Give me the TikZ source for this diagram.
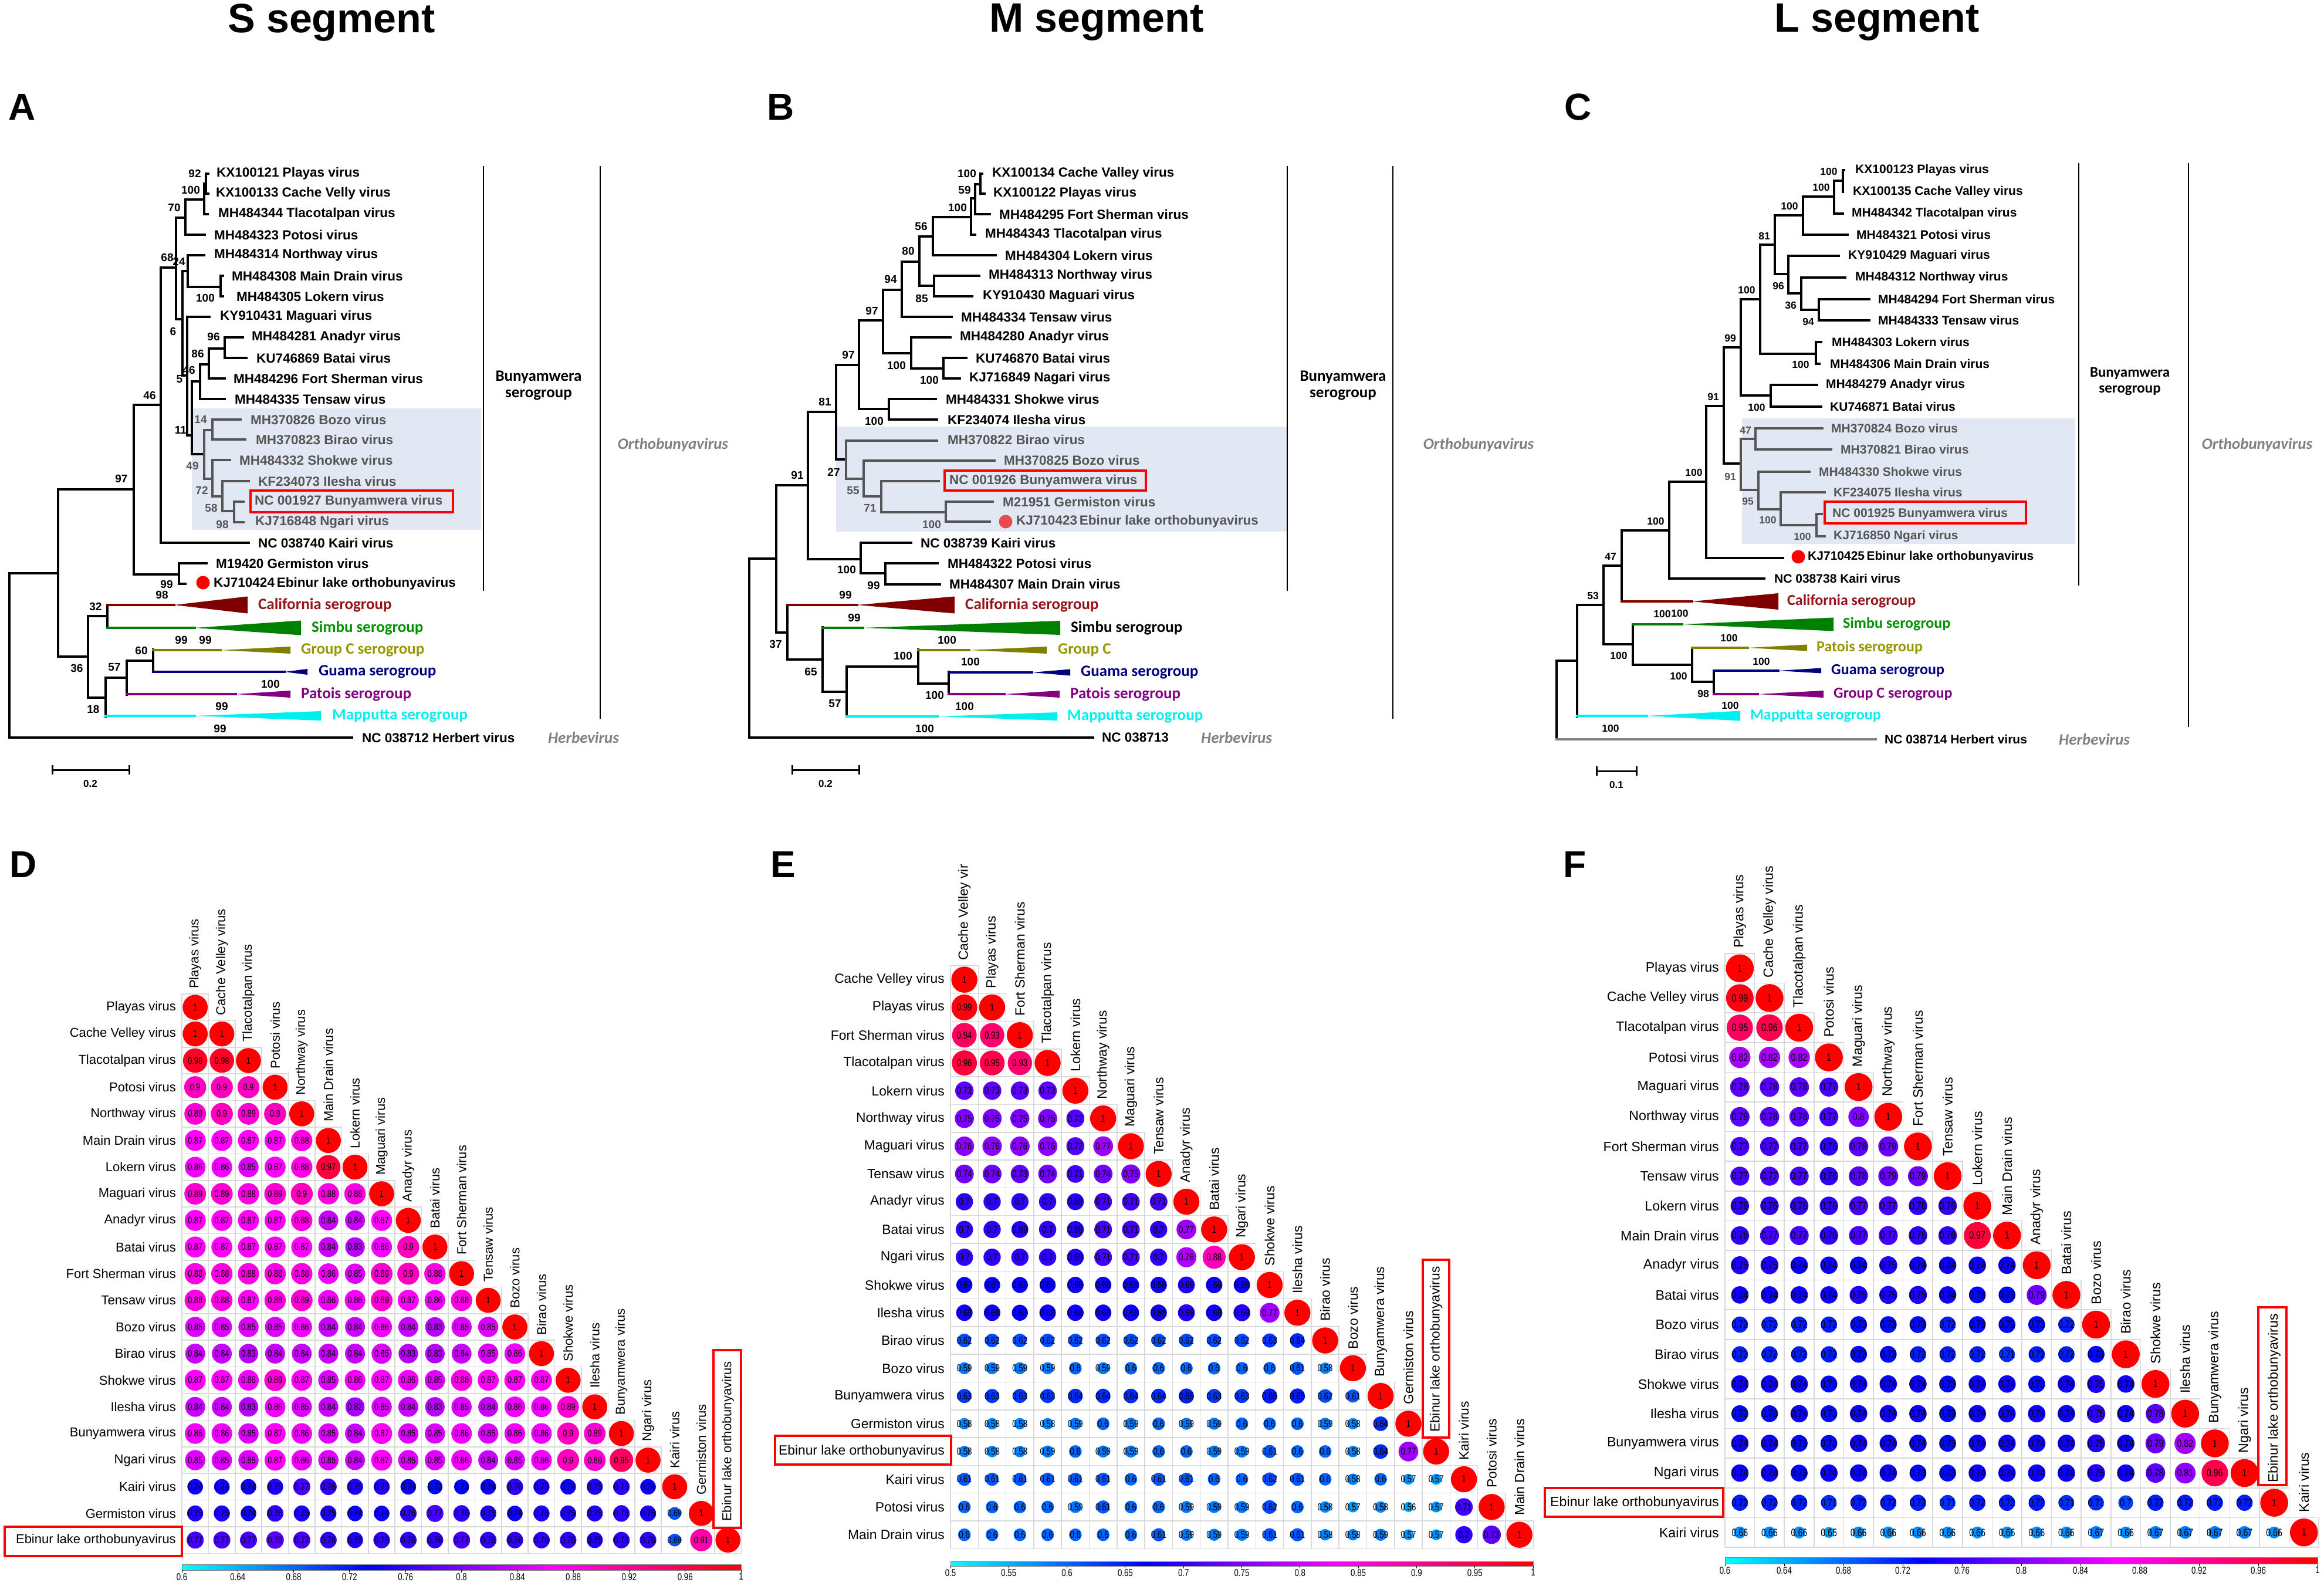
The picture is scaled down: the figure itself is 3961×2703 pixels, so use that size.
\documentclass[tikz,border=0pt]{standalone}
\usepackage{fontspec}
\setmainfont{Liberation Sans}
\newfontfamily\calib{Carlito}
\newfontfamily\numf[FakeStretch=0.78]{Liberation Sans}
\definecolor{shadebg}{RGB}{226,232,243}
\definecolor{shgray}{RGB}{85,85,85}
\definecolor{calred}{RGB}{128,0,0}
\definecolor{caltxt}{RGB}{150,20,25}
\definecolor{simbu}{RGB}{0,128,0}
\definecolor{simtxt}{RGB}{0,145,0}
\definecolor{grpc}{RGB}{128,128,0}
\definecolor{grptxt}{RGB}{150,150,0}
\definecolor{guama}{RGB}{0,0,128}
\definecolor{patois}{RGB}{128,0,128}
\definecolor{mapp}{RGB}{0,240,240}
\definecolor{orthog}{RGB}{128,128,128}
\definecolor{dotb}{RGB}{232,74,80}
\definecolor{cC}{rgb}{0,1,1}
\definecolor{cB}{rgb}{0,0,1}
\definecolor{cM}{rgb}{1,0,1}
\definecolor{cR}{rgb}{1,0,0}
\tikzset{
  br/.style={line width=3.5pt, line cap=rect},
  tl/.style={anchor=west, inner sep=0, font=\bfseries\fontsize{22.5}{24}\selectfont},
  bsl/.style={inner sep=0, font=\bfseries\fontsize{19}{19}\selectfont},
  clab/.style={anchor=west, inner sep=0, font=\calib\bfseries\fontsize{27}{27}\selectfont},
  grouplab/.style={align=center, inner sep=0, font=\calib\bfseries\fontsize{27}{28}\selectfont},
  genlab/.style={inner sep=0, text=orthog, font=\calib\bfseries\itshape\fontsize{27}{27}\selectfont},
  redbox/.style={draw=cR, line width=4pt},
  rowlab/.style={anchor=east, inner sep=0},
  collab/.style={anchor=west, inner sep=0, rotate=90},
  cellb/.style={draw=black!15, line width=1.5pt},
  panel/.style={inner sep=0, font=\bfseries\fontsize{64}{64}\selectfont},
  title/.style={inner sep=0, font=\bfseries\fontsize{70}{70}\selectfont},
  scl/.style={line width=3pt}
}
% node: x, ya, xa, yb, xb
\newcommand\nd[6][black]{\draw[br,#1] (#4,#3)--(#2,#3)--(#2,#5)--(#6,#5);}
\newcommand\tip[4][black]{\node[tl,text=#1] at (#2,#3) {#4};}
\newcommand\bs[4][black]{\node[bsl,text=#1] at (#2,#3) {#4};}
% clade: color, x0, xtri, xend, y, half, text, textcolor, textx
\newcommand\clade[9]{%
  \draw[br,#1] (#2,#5)--(#3,#5);
  \fill[#1] (#3,#5)--(#4,{#5-#6})--(#4,{#5+#6})--cycle;
  \node[clab,text=#8] at (#9,#5) {#7};}
\newcommand\corrmat[9]{%
  \pgfmathsetmacro\nfs{0.36*#3}%
  \foreach \lab [count=\i] in {#6}{%
    \node[rowlab,font=\fontsize{#9}{#9}\selectfont] at ({#1-10},{#2+(\i-0.5)*#3}) {\lab};}%
  \foreach \lab [count=\i] in {#7}{%
    \node[collab,font=\fontsize{#9}{#9}\selectfont] at ({#1+(\i-0.5)*#3},{#2+(\i-1)*#3-9}) {\lab};}%
  \foreach \row [count=\i] in {#8}{%
    \foreach \v [count=\j] in \row {%
      \pgfmathsetmacro\tv{max(0.001,min(1,(\v-#4)/(#5-#4)))}%
      \ifdim\tv pt<0.33333pt
        \pgfmathtruncatemacro\pp{min(100,300*\tv)}\colorlet{cc}{cB!\pp!cC}%
      \else\ifdim\tv pt<0.66667pt
        \pgfmathtruncatemacro\pp{min(100,300*(\tv-1/3))}\colorlet{cc}{cM!\pp!cB}%
      \else
        \pgfmathtruncatemacro\pp{min(100,300*(\tv-2/3))}\colorlet{cc}{cR!\pp!cM}%
      \fi\fi
      \pgfmathsetmacro\rr{#3*0.47*max(0.3,\tv^0.45)}%
      \draw[cellb] ({#1+(\j-1)*#3},{#2+(\i-1)*#3}) rectangle ++(#3,#3);
      \fill[cc] ({#1+(\j-0.5)*#3},{#2+(\i-0.5)*#3}) circle[radius=\rr pt];
      \node[inner sep=0,font=\numf\fontsize{\nfs}{\nfs}\selectfont] at ({#1+(\j-0.5)*#3},{#2+(\i-0.5)*#3}) {\v};
    }}%
}
\newcommand\cbar[7]{%
  \pgfmathsetmacro\cw{(#3-#1)/3}%
  \shade[left color=cC,right color=cB] (#1,#2) rectangle ({#1+\cw},#4);
  \shade[left color=cB,right color=cM] ({#1+\cw},#2) rectangle ({#1+2*\cw},#4);
  \shade[left color=cM,right color=cR] ({#1+2*\cw},#2) rectangle (#3,#4);
  \draw[black!50,line width=1pt] (#1,#2) rectangle (#3,#4);
  \foreach \v in {#7}{%
    \pgfmathsetmacro\xx{#1+(\v-#5)/(#6-#5)*(#3-#1)}%
    \draw[line width=1pt] (\xx,#4)--(\xx,{#4+4});
    \node[anchor=north,inner sep=0,font=\numf\fontsize{17}{17}\selectfont] at (\xx,{#4+5}) {\v};}%
}
\begin{document}
\begin{tikzpicture}[x=1pt,y=-1pt]
\useasboundingbox (0,0) rectangle (3961,2703);
\fill[white] (0,0) rectangle (3961,2703);

% titles and panel letters
\node[title] (tS) at (565,38) {S segment};
\node[title] (tM) at (1869,38) {M segment};
\node[title] (tL) at (3199,38) {L segment};
\node[panel] (pA) at (38,182) {A};
\node[panel] (pB) at (1331,182) {B};
\node[panel] (pC) at (2690,182) {C};
\node[panel] (pD) at (40,1473) {D};
\node[panel] (pE) at (1335,1473) {E};
\node[panel] (pF) at (2684,1473) {F};

% ================= TREE A =================
\fill[shadebg] (327,696) rectangle (820,903);
\nd{16}{977}{99}{1257}{600}
\nd{99}{834}{228}{1119}{150}
\nd{228}{690}{274}{979}{305}
\nd{305}{960}{352}{995}{316}
\nd{274}{456}{300}{925}{424}
\nd{300}{371}{316}{544}{311}
\nd{316}{340}{348}{400}{349}
\nd{348}{313}{351}{365}{354}
\nd{351}{296}{355}{330}{355}
\nd{311}{462}{320}{640}{319}
\nd{320}{435}{348}{489}{376}
\nd{376}{470}{380}{505}{380}
\nd{319}{540}{357}{742}{327}
\nd{327}{650}{341}{774}{348}
\nd{341}{621}{356}{680}{383}
\nd{356}{594}{383}{645}{383}
\nd{383}{575}{414}{610}{420}
\nd[shgray]{348}{733}{362}{816}{362}
\nd[shgray]{362}{715}{410}{749}{418}
\nd[shgray]{362}{784}{392}{846}{379}
\nd[shgray]{379}{820}{424}{871}{399}
\nd[shgray]{399}{855}{415}{890}{415}
\nd{150}{1050}{183}{1189}{180}
\nd{183}{1032}{183}{1070}{183}
\nd{180}{1155}{216}{1221}{180}
\nd{216}{1126}{261}{1184}{216}
\nd{261}{1107}{261}{1145}{261}
\clade{calred}{183}{297}{422}{1031}{14.5}{California serogroup}{caltxt}{440}
\clade{simbu}{183}{332}{513}{1070}{12.5}{Simbu serogroup}{simtxt}{531}
\clade{grpc}{261}{376}{495}{1108}{6}{Group C serogroup}{grptxt}{513}
\clade{guama}{261}{485}{524}{1145}{5}{Guama serogroup}{guama}{543}
\clade{patois}{216}{402}{495}{1183}{6}{Patois serogroup}{patois}{513}
\clade{mapp}{180}{332}{547}{1220}{8}{Mapputta serogroup}{mapp}{566}
\tip{369}{296}{KX100121 Playas virus}
\tip{368}{330}{KX100133 Cache Velly virus}
\tip{372}{365}{MH484344 Tlacotalpan virus}
\tip{365}{400}{MH484323 Potosi virus}
\tip{365}{435}{MH484314 Northway virus}
\tip{395}{470}{MH484308 Main Drain virus}
\tip{403}{505}{MH484305 Lokern virus}
\tip{375}{540}{KY910431 Maguari virus}
\tip{429}{575}{MH484281 Anadyr virus}
\tip{437}{610}{KU746869 Batai virus}
\tip{398}{645}{MH484296 Fort Sherman virus}
\tip{400}{680}{MH484335 Tensaw virus}
\tip[shgray]{427}{715}{MH370826 Bozo virus}
\tip[shgray]{436}{749}{MH370823 Birao virus}
\tip[shgray]{408}{784}{MH484332 Shokwe virus}
\tip[shgray]{440}{820}{KF234073 Ilesha virus}
\tip[shgray]{434}{855}{NC 001927 Bunyamwera virus}
\tip[shgray]{435}{890}{KJ716848 Ngari virus}
\tip{440}{925}{NC 038740 Kairi virus}
\tip{368}{960}{M19420 Germiston virus}
\tip{364}{995}{KJ710424\,Ebinur lake orthobunyavirus}
\tip{617}{1257}{NC 038712 Herbert virus}
\fill[cR] (346,993) circle[radius=11.5pt];
\draw[redbox] (427,836) rectangle (772,873);
\bs{332}{296}{92} \bs{325}{324}{100} \bs{297}{354}{70} \bs{285}{439}{68} \bs{305}{446}{24}
\bs{350}{508}{100} \bs{295}{565}{6} \bs{364}{574}{96} \bs{337}{603}{86} \bs{322}{631}{46}
\bs{306}{646}{5} \bs[shgray]{342}{715}{14} \bs{308}{733}{11} \bs[shgray]{328}{794}{49}
\bs[shgray]{344}{836}{72} \bs[shgray]{360}{866}{58} \bs[shgray]{379}{894}{98}
\bs{255}{674}{46} \bs{207}{816}{97} \bs{284}{996}{99} \bs{276}{1014}{98} \bs{163}{1034}{32}
\bs{309}{1091}{99} \bs{350}{1091}{99} \bs{241}{1109}{60} \bs{131}{1139}{36} \bs{195}{1137}{57}
\bs{461}{1166}{100} \bs{159}{1209}{18} \bs{378}{1204}{99} \bs{375}{1242}{99}
\draw[line width=2.5pt] (824,283)--(824,1007);
\node[grouplab] (bunA) at (918,657) {Bunyamwera\\serogroup};
\draw[line width=2.5pt] (1023,283)--(1023,1225);
\node[genlab] (orA) at (1147,758) {Orthobunyavirus};
\node[genlab,anchor=west] (heA) at (934,1257) {Herbevirus};
\draw[scl] (89,1304)--(89,1320) (89,1312)--(220,1312) (220,1304)--(220,1320);
\node[bsl,font=\bfseries\fontsize{17}{17}\selectfont] at (154,1336) {0.2};

% ================= TREE B =================
\fill[shadebg] (1425,727) rectangle (2193,906);
\nd{1277}{952}{1323}{1257}{1863}
\nd{1323}{827}{1377}{1078}{1342}
\nd{1377}{702}{1425}{953}{1467}
\nd{1467}{925}{1553}{977}{1509}
\nd{1509}{960}{1598}{996}{1602}
\nd{1425}{622}{1464}{783}{1442}
\nd[shgray]{1442}{751}{1597}{816}{1472}
\nd[shgray]{1472}{785}{1695}{846}{1502}
\nd[shgray]{1502}{820}{1600}{873}{1612}
\nd[shgray]{1612}{855}{1692}{889}{1687}
\nd{1464}{546}{1505}{697}{1515}
\nd{1515}{680}{1595}{715}{1597}
\nd{1505}{494}{1537}{602}{1553}
\nd{1553}{575}{1620}{628}{1608}
\nd{1608}{610}{1647}{645}{1636}
\nd{1537}{446}{1567}{540}{1622}
\nd{1567}{403}{1590}{487}{1592}
\nd{1592}{470}{1669}{505}{1657}
\nd{1590}{370}{1655}{435}{1697}
\nd{1655}{338}{1662}{400}{1662}
\nd{1662}{314}{1671}{365}{1687}
\nd{1671}{296}{1674}{330}{1678}
\nd{1342}{1031}{1342}{1124}{1402}
\nd{1402}{1069}{1402}{1179}{1443}
\nd{1443}{1136}{1565}{1221}{1443}
\nd{1565}{1107}{1565}{1165}{1617}
\nd{1617}{1145}{1617}{1183}{1617}
\clade{calred}{1342}{1461}{1627}{1031}{14.5}{California serogroup}{caltxt}{1645}
\clade{simbu}{1402}{1471}{1807}{1070}{12}{Simbu serogroup}{black}{1825}
\clade{grpc}{1565}{1652}{1784}{1108}{6}{Group C}{grptxt}{1803}
\clade{guama}{1617}{1759}{1824}{1146}{5.5}{Guama serogroup}{guama}{1842}
\clade{patois}{1617}{1712}{1806}{1183}{6}{Patois serogroup}{patois}{1824}
\clade{mapp}{1443}{1598}{1802}{1221}{7}{Mapputta serogroup}{mapp}{1819}
\tip{1691}{296}{KX100134 Cache Valley virus}
\tip{1693}{330}{KX100122 Playas virus}
\tip{1703}{365}{MH484295 Fort Sherman virus}
\tip{1679}{400}{MH484343 Tlacotalpan virus}
\tip{1713}{435}{MH484304 Lokern virus}
\tip{1685}{470}{MH484313 Northway virus}
\tip{1675}{505}{KY910430 Maguari virus}
\tip{1638}{540}{MH484334 Tensaw virus}
\tip{1636}{575}{MH484280 Anadyr virus}
\tip{1663}{610}{KU746870 Batai virus}
\tip{1652}{645}{KJ716849 Nagari virus}
\tip{1612}{680}{MH484331 Shokwe virus}
\tip{1615}{715}{KF234074 Ilesha virus}
\tip[shgray]{1615}{749}{MH370822 Birao virus}
\tip[shgray]{1711}{784}{MH370825 Bozo virus}
\tip[shgray]{1618}{820}{NC 001926 Bunyamwera virus}
\tip[shgray]{1709}{855}{M21951 Germiston virus}
\tip[shgray]{1732}{889}{KJ710423\,Ebinur lake orthobunyavirus}
\tip{1569}{925}{NC 038739 Kairi virus}
\tip{1615}{960}{MH484322 Potosi virus}
\tip{1618}{995}{MH484307 Main Drain virus}
\tip{1878}{1257}{NC 038713}
\fill[dotb] (1714,889) circle[radius=11.5pt];
\draw[redbox] (1610,802) rectangle (1953,836);
\bs{1648}{296}{100} \bs{1644}{324}{59} \bs{1632}{354}{100} \bs{1570}{386}{56} \bs{1548}{428}{80}
\bs{1518}{476}{94} \bs{1571}{509}{85} \bs{1486}{530}{97} \bs{1446}{605}{97} \bs{1528}{623}{100}
\bs{1584}{648}{100} \bs{1406}{685}{81} \bs{1490}{718}{100} \bs{1421}{805}{27} \bs{1359}{810}{91}
\bs[shgray]{1454}{836}{55} \bs[shgray]{1483}{866}{71} \bs[shgray]{1588}{894}{100}
\bs{1443}{971}{100} \bs{1489}{998}{99} \bs{1441}{1014}{99} \bs{1456}{1053}{99} \bs{1322}{1098}{37}
\bs{1614}{1091}{100} \bs{1539}{1118}{100} \bs{1654}{1128}{100} \bs{1382}{1145}{65} \bs{1593}{1185}{100}
\bs{1423}{1199}{57} \bs{1644}{1204}{100} \bs{1576}{1242}{100}
\draw[line width=2.5pt] (2194,283)--(2194,1007);
\node[grouplab] (bunB) at (2289,657) {Bunyamwera\\serogroup};
\draw[line width=2.5pt] (2374,283)--(2374,1225);
\node[genlab] (orB) at (2520,758) {Orthobunyavirus};
\node[genlab,anchor=west] (heB) at (2047,1257) {Herbevirus};
\draw[scl] (1350,1304)--(1350,1320) (1350,1312)--(1464,1312) (1464,1304)--(1464,1320);
\node[bsl,font=\bfseries\fontsize{17}{17}\selectfont] at (1407,1336) {0.2};

% ================= TREE C =================
\begin{scope}[tl/.style={anchor=west, inner sep=0, font=\bfseries\fontsize{21}{22}\selectfont},
              bsl/.style={inner sep=0, font=\bfseries\fontsize{17.5}{18}\selectfont},
              clab/.style={anchor=west, inner sep=0, font=\calib\bfseries\fontsize{26}{26}\selectfont}]
\fill[shadebg] (2969,713) rectangle (3537,927);
\nd{2653}{1126}{2688}{1260}{2653}
\draw[br,orthog] (2653,1260)--(3197,1260);
\nd{2688}{1031}{2733}{1221}{2688}
\nd{2733}{964}{2764}{1098}{2783}
\nd{2764}{904}{2845}{1024}{2764}
\nd{2845}{821}{2908}{986}{3007}
\nd{2908}{692}{2938}{951}{3039}
\nd{2938}{592}{2967}{790}{2967}
\nd{2967}{510}{3000}{674}{3018}
\nd{3018}{656}{3097}{693}{3104}
\nd{3000}{417}{3025}{603}{3095}
\nd{3095}{583}{3104}{620}{3101}
\nd{3025}{367}{3073}{467}{3048}
\nd{3073}{335}{3126}{400}{3149}
\nd{3126}{308}{3141}{364}{3141}
\nd{3141}{290}{3143}{327}{3141}
\nd{3048}{436}{3134}{500}{3070}
\nd{3070}{473}{3145}{528}{3100}
\nd{3100}{510}{3186}{546}{3186}
\nd[shgray]{2967}{748}{2992}{835}{2997}
\nd[shgray]{2992}{730}{3106}{766}{3121}
\nd[shgray]{2997}{804}{3084}{868}{3035}
\nd[shgray]{3035}{839}{3110}{895}{3096}
\nd[shgray]{3096}{876}{3105}{914}{3110}
\nd{2783}{1064}{2783}{1133}{2884}
\nd{2884}{1104}{2884}{1162}{2921}
\nd{2921}{1143}{2921}{1183}{2921}
\clade{calred}{2764}{2884}{3031}{1025}{14}{California serogroup}{caltxt}{3046}
\clade{simbu}{2783}{2867}{3125}{1064}{11.5}{Simbu serogroup}{simtxt}{3141}
\clade{grpc}{2884}{2979}{3080}{1104}{5.5}{Patois serogroup}{grptxt}{3096}
\clade{guama}{2921}{3031}{3104}{1143}{4.5}{Guama serogroup}{guama}{3121}
\clade{patois}{2921}{2996}{3108}{1183}{6}{Group C serogroup}{patois}{3125}
\clade{mapp}{2688}{2807}{2966}{1220}{8.5}{Mapputta serogroup}{mapp}{2983}
\tip{3162}{290}{KX100123 Playas virus}
\tip{3158}{327}{KX100135 Cache Valley virus}
\tip{3156}{364}{MH484342 Tlacotalpan virus}
\tip{3164}{400}{MH484321 Potosi virus}
\tip{3150}{436}{KY910429 Maguari virus}
\tip{3162}{473}{MH484312 Northway virus}
\tip{3201}{510}{MH484294 Fort Sherman virus}
\tip{3201}{546}{MH484333 Tensaw virus}
\tip{3122}{583}{MH484303 Lokern virus}
\tip{3119}{620}{MH484306 Main Drain virus}
\tip{3112}{656}{MH484279 Anadyr virus}
\tip{3119}{693}{KU746871 Batai virus}
\tip[shgray]{3121}{730}{MH370824 Bozo virus}
\tip[shgray]{3137}{766}{MH370821 Birao virus}
\tip[shgray]{3100}{804}{MH484330 Shokwe virus}
\tip[shgray]{3125}{839}{KF234075 Ilesha virus}
\tip[shgray]{3123}{876}{NC 001925 Bunyamwera virus}
\tip[shgray]{3125}{914}{KJ716850 Ngari virus}
\tip{3081}{949}{KJ710425\,Ebinur lake orthobunyavirus}
\tip{3024}{986}{NC 038738 Kairi virus}
\tip{3212}{1260}{NC 038714 Herbert virus}
\fill[cR] (3065,949) circle[radius=11.5pt];
\draw[redbox] (3110,855) rectangle (3453,892);
\bs{3117}{292}{100} \bs{3104}{319}{100} \bs{3050}{351}{100} \bs{3007}{402}{81} \bs{3031}{487}{96}
\bs{2977}{494}{100} \bs{3052}{520}{36} \bs{3082}{548}{94} \bs{2949}{576}{99} \bs{3069}{621}{100}
\bs{2920}{676}{91} \bs{2994}{694}{100} \bs[shgray]{2975}{733}{47} \bs{2887}{805}{100}
\bs[shgray]{2949}{812}{91} \bs[shgray]{2979}{854}{95} \bs{2822}{888}{100} \bs[shgray]{3013}{886}{100}
\bs[shgray]{3072}{914}{100} \bs{2745}{948}{47} \bs{2715}{1015}{53} \bs{2833}{1046}{100}
\bs{2863}{1045}{100} \bs{2947}{1087}{100} \bs{2759}{1117}{100} \bs{3002}{1127}{100}
\bs{2861}{1152}{100} \bs{2903}{1182}{98} \bs{2949}{1202}{100} \bs{2745}{1241}{100}
\draw[line width=2.5pt] (3543,278)--(3543,998);
\node[grouplab,font=\calib\bfseries\fontsize{25}{27}\selectfont] (bunC) at (3630,650) {Bunyamwera\\serogroup};
\draw[line width=2.5pt] (3730,278)--(3730,1239);
\node[genlab] (orC) at (3847,758) {Orthobunyavirus};
\node[genlab,anchor=west] (heC) at (3509,1260) {Herbevirus};
\draw[scl] (2721,1306)--(2721,1322) (2721,1314)--(2789,1314) (2789,1306)--(2789,1322);
\node[bsl,font=\bfseries\fontsize{17}{17}\selectfont] at (2755,1338) {0.1};
\end{scope}

% ================= MATRIX D =================
\corrmat{310}{1694}{45.4}{0.6}{1}%
{Playas virus,Cache Velley virus,Tlacotalpan virus,Potosi virus,Northway virus,Main Drain virus,Lokern virus,Maguari virus,Anadyr virus,Batai virus,Fort Sherman virus,Tensaw virus,Bozo virus,Birao virus,Shokwe virus,Ilesha virus,Bunyamwera virus,Ngari virus,Kairi virus,Germiston virus,Ebinur lake orthobunyavirus}%
{Playas virus,Cache Velley virus,Tlacotalpan virus,Potosi virus,Northway virus,Main Drain virus,Lokern virus,Maguari virus,Anadyr virus,Batai virus,Fort Sherman virus,Tensaw virus,Bozo virus,Birao virus,Shokwe virus,Ilesha virus,Bunyamwera virus,Ngari virus,Kairi virus,Germiston virus,Ebinur lake orthobunyavirus}%
{{1},{1,1},{0.98,0.98,1},{0.9,0.9,0.9,1},{0.89,0.9,0.89,0.9,1},
{0.87,0.87,0.87,0.87,0.88,1},{0.86,0.86,0.85,0.87,0.88,0.97,1},
{0.89,0.89,0.88,0.89,0.9,0.88,0.88,1},{0.87,0.87,0.87,0.87,0.88,0.84,0.84,0.87,1},
{0.87,0.87,0.87,0.87,0.87,0.84,0.83,0.86,0.9,1},
{0.88,0.88,0.88,0.88,0.88,0.86,0.85,0.89,0.9,0.88,1},
{0.88,0.88,0.87,0.88,0.89,0.86,0.86,0.89,0.87,0.86,0.88,1},
{0.85,0.85,0.85,0.85,0.86,0.84,0.84,0.86,0.84,0.83,0.85,0.85,1},
{0.84,0.84,0.83,0.84,0.84,0.84,0.84,0.85,0.83,0.83,0.84,0.85,0.86,1},
{0.87,0.87,0.86,0.89,0.87,0.85,0.86,0.87,0.86,0.85,0.88,0.87,0.87,0.87,1},
{0.84,0.84,0.83,0.86,0.85,0.84,0.82,0.85,0.84,0.83,0.85,0.84,0.86,0.86,0.89,1},
{0.86,0.86,0.85,0.87,0.86,0.85,0.84,0.87,0.85,0.85,0.86,0.85,0.86,0.86,0.9,0.89,1},
{0.85,0.85,0.85,0.87,0.86,0.85,0.84,0.87,0.85,0.85,0.86,0.84,0.85,0.86,0.9,0.89,0.95,1},
{0.74,0.74,0.74,0.75,0.77,0.76,0.75,0.75,0.74,0.73,0.73,0.74,0.76,0.75,0.74,0.75,0.76,0.74,1},
{0.75,0.75,0.74,0.76,0.75,0.75,0.74,0.74,0.76,0.77,0.76,0.75,0.74,0.75,0.75,0.75,0.76,0.75,0.69,1},
{0.77,0.77,0.77,0.78,0.77,0.76,0.75,0.76,0.76,0.76,0.77,0.76,0.76,0.76,0.76,0.75,0.76,0.76,0.69,0.91,1}}%
{22}
\draw[redbox] (8,2602) rectangle (310,2652);
\draw[redbox] (1216,2301) rectangle (1263,2604);
\cbar{310}{2666}{1263}{2676}{0.6}{1}{0.6,0.64,0.68,0.72,0.76,0.8,0.84,0.88,0.92,0.96,1}

% ================= MATRIX E =================
\corrmat{1620}{1646}{47.3}{0.5}{1}%
{Cache Velley virus,Playas virus,Fort Sherman virus,Tlacotalpan virus,Lokern virus,Northway virus,Maguari virus,Tensaw virus,Anadyr virus,Batai virus,Ngari virus,Shokwe virus,Ilesha virus,Birao virus,Bozo virus,Bunyamwera virus,Germiston virus,Ebinur lake orthobunyavirus,Kairi virus,Potosi virus,Main Drain virus}%
{Cache Velley vir,Playas virus,Fort Sherman virus,Tlacotalpan virus,Lokern virus,Northway virus,Maguari virus,Tensaw virus,Anadyr virus,Batai virus,Ngari virus,Shokwe virus,Ilesha virus,Birao virus,Bozo virus,Bunyamwera virus,Germiston virus,Ebinur lake orthobunyavirus,Kairi virus,Potosi virus,Main Drain virus}%
{{1},{0.99,1},{0.94,0.93,1},{0.96,0.95,0.93,1},{0.73,0.73,0.73,0.73,1},
{0.75,0.75,0.75,0.75,0.72,1},{0.76,0.76,0.76,0.76,0.72,0.77,1},
{0.74,0.74,0.73,0.74,0.71,0.74,0.75,1},{0.7,0.7,0.7,0.7,0.69,0.71,0.71,0.71,1},
{0.7,0.7,0.69,0.7,0.69,0.71,0.71,0.7,0.77,1},
{0.7,0.7,0.7,0.7,0.69,0.71,0.71,0.7,0.78,0.88,1},
{0.67,0.67,0.67,0.67,0.68,0.68,0.68,0.68,0.69,0.68,0.68,1},
{0.68,0.68,0.67,0.68,0.68,0.68,0.68,0.68,0.69,0.68,0.69,0.77,1},
{0.62,0.62,0.62,0.62,0.62,0.62,0.62,0.62,0.62,0.62,0.62,0.63,0.64,1},
{0.59,0.59,0.59,0.59,0.6,0.59,0.6,0.6,0.6,0.6,0.6,0.6,0.61,0.58,1},
{0.63,0.63,0.63,0.63,0.64,0.64,0.64,0.64,0.65,0.63,0.63,0.65,0.65,0.62,0.61,1},
{0.58,0.58,0.58,0.58,0.59,0.6,0.59,0.6,0.59,0.59,0.6,0.6,0.6,0.59,0.58,0.64,1},
{0.58,0.58,0.58,0.59,0.6,0.59,0.59,0.6,0.6,0.59,0.59,0.61,0.6,0.6,0.58,0.64,0.77,1},
{0.61,0.61,0.61,0.61,0.61,0.61,0.6,0.61,0.61,0.6,0.6,0.62,0.61,0.6,0.58,0.6,0.57,0.57,1},
{0.6,0.6,0.6,0.6,0.59,0.61,0.6,0.6,0.59,0.59,0.59,0.62,0.6,0.58,0.57,0.58,0.56,0.57,0.71,1},
{0.6,0.6,0.6,0.6,0.6,0.6,0.6,0.61,0.59,0.59,0.59,0.61,0.61,0.58,0.58,0.59,0.57,0.57,0.7,0.73,1}}%
{22.8}
\draw[redbox] (1321,2447) rectangle (1621,2496);
\draw[redbox] (2425,2147) rectangle (2470,2450);
\cbar{1620}{2661}{2613}{2669}{0.5}{1}{0.5,0.55,0.6,0.65,0.7,0.75,0.8,0.85,0.9,0.95,1}

% ================= MATRIX F =================
\corrmat{2940}{1625}{50.6}{0.6}{1}%
{Playas virus,Cache Velley virus,Tlacotalpan virus,Potosi virus,Maguari virus,Northway virus,Fort Sherman virus,Tensaw virus,Lokern virus,Main Drain virus,Anadyr virus,Batai virus,Bozo virus,Birao virus,Shokwe virus,Ilesha virus,Bunyamwera virus,Ngari virus,Ebinur lake orthobunyavirus,Kairi virus}%
{Playas virus,Cache Velley virus,Tlacotalpan virus,Potosi virus,Maguari virus,Northway virus,Fort Sherman virus,Tensaw virus,Lokern virus,Main Drain virus,Anadyr virus,Batai virus,Bozo virus,Birao virus,Shokwe virus,Ilesha virus,Bunyamwera virus,Ngari virus,Ebinur lake orthobunyavirus,Kairi virus}%
{{1},{0.99,1},{0.95,0.96,1},{0.82,0.82,0.82,1},{0.78,0.78,0.78,0.77,1},
{0.78,0.78,0.78,0.77,0.8,1},{0.77,0.77,0.77,0.76,0.78,0.79,1},
{0.77,0.77,0.77,0.76,0.78,0.79,0.79,1},{0.76,0.76,0.76,0.76,0.77,0.77,0.76,0.76,1},
{0.76,0.77,0.77,0.76,0.77,0.77,0.76,0.76,0.97,1},
{0.75,0.75,0.74,0.74,0.74,0.75,0.74,0.74,0.74,0.74,1},
{0.74,0.74,0.74,0.74,0.75,0.75,0.75,0.74,0.73,0.73,0.79,1},
{0.72,0.72,0.72,0.72,0.73,0.73,0.73,0.72,0.73,0.73,0.73,0.72,1},
{0.72,0.72,0.72,0.72,0.73,0.73,0.72,0.72,0.72,0.71,0.72,0.72,0.73,1},
{0.74,0.74,0.74,0.73,0.74,0.74,0.74,0.73,0.74,0.74,0.73,0.74,0.75,0.74,1},
{0.73,0.73,0.74,0.73,0.74,0.74,0.74,0.73,0.74,0.74,0.74,0.74,0.76,0.74,0.78,1},
{0.74,0.74,0.73,0.73,0.74,0.74,0.74,0.73,0.74,0.74,0.74,0.74,0.75,0.74,0.79,0.82,1},
{0.74,0.74,0.73,0.74,0.74,0.74,0.73,0.73,0.74,0.74,0.74,0.74,0.75,0.74,0.78,0.81,0.96,1},
{0.72,0.72,0.72,0.71,0.72,0.72,0.72,0.71,0.72,0.72,0.72,0.71,0.71,0.7,0.72,0.72,0.72,0.72,1},
{0.66,0.66,0.66,0.65,0.66,0.66,0.66,0.66,0.66,0.66,0.66,0.66,0.67,0.66,0.67,0.67,0.67,0.67,0.66,1}}%
{23.2}
\draw[redbox] (2633,2536) rectangle (2937,2585);
\draw[redbox] (3849,2228) rectangle (3897,2531);
\cbar{2940}{2654}{3950}{2665}{0.6}{1}{0.6,0.64,0.68,0.72,0.76,0.8,0.84,0.88,0.92,0.96,1}
\end{tikzpicture}
\end{document}
